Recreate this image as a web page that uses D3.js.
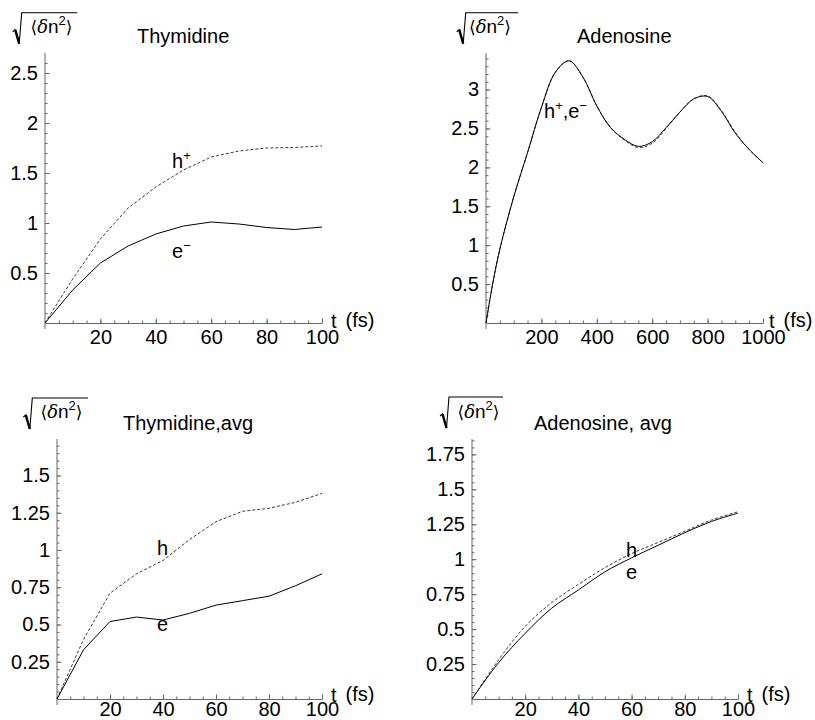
<!DOCTYPE html>
<html><head><meta charset="utf-8">
<script src="https://cdn.jsdelivr.net/npm/d3@7"></script>
<style>
body{margin:0;background:#fff}
text{font-family:"Liberation Sans",Arial,Helvetica,sans-serif;fill:#000}
</style>
</head><body>
<svg id="c" width="815" height="720"></svg>
<script>
// ---------- data ----------
const tShort = [0,10,20,30,40,50,60,70,80,90,100];
const thymidineH = [0,0.44,0.84,1.15,1.36,1.53,1.66,1.72,1.75,1.755,1.77];
const thymidineE = [0,0.33,0.60,0.77,0.89,0.97,1.01,0.99,0.955,0.935,0.96];

const tLong = [0,25,50,100,150,200,250,300,350,400,450,500,550,600,650,700,750,800,850,900,950,1000];
const adenosineH = [0,0.52,0.95,1.62,2.19,2.77,3.22,3.37,3.16,2.79,2.51,2.35,2.255,2.31,2.50,2.71,2.88,2.92,2.73,2.45,2.23,2.06];
const adenosineE = [0,0.52,0.95,1.62,2.19,2.77,3.22,3.37,3.16,2.79,2.51,2.36,2.27,2.33,2.51,2.71,2.88,2.91,2.72,2.44,2.23,2.06];

const thymidineAvgH = [0,0.40,0.71,0.84,0.93,1.07,1.19,1.26,1.28,1.32,1.38];
const thymidineAvgE = [0,0.33,0.52,0.55,0.53,0.575,0.63,0.66,0.69,0.76,0.84];

const adenosineAvgH = [0,0.28,0.52,0.69,0.82,0.94,1.04,1.12,1.20,1.28,1.34];
const adenosineAvgE = [0,0.26,0.47,0.65,0.78,0.91,1.01,1.10,1.19,1.27,1.33];

const xTicks100 = [20,40,60,80,100];
const xTicks1000 = [200,400,600,800,1000];
const yTicksThy = [0.5,1,1.5,2,2.5];
const yTicksAde = [0.5,1,1.5,2,2.5,3];
const yTicksThyAvg = [0.25,0.5,0.75,1,1.25,1.5];
const yTicksAdeAvg = [0.25,0.5,0.75,1,1.25,1.5,1.75];

const titles = ["Thymidine","Adenosine","Thymidine,avg","Adenosine, avg"];

// ---------- layout ----------
const svg = d3.select("#c");
const smooth = d3.curveCatmullRom.alpha(0.5);
const panels = [
  {title:titles[0], t:tShort, h:thymidineH, e:thymidineE, xMax:100, yMax:2.7, xTicks:xTicks100, xMinor:5,
   yTicks:yTicksThy, yMinor:0.1, x0:45, x1:322, yBase:323, yTop:53, xPad:7, curve:d3.curveLinear,
   tfs:[331,328], rad:[12.7,12.7,30.5,77.3,33], titlePos:[137,43],
   labels:[{x:172,y:168,t:"h",s:"+"},{x:172,y:258,t:"e",s:"\u2212"}]},
  {title:titles[1], t:tLong, h:adenosineH, e:adenosineE, xMax:1000, yMax:3.47, xTicks:xTicks1000, xMinor:50,
   yTicks:yTicksAde, yMinor:0.1, x0:486, x1:763, yBase:323, yTop:53, xPad:7, curve:smooth,
   tfs:[769,328], rad:[456.7,12.7,469,518,33], titlePos:[577,43],
   labels:[{x:544,y:118,t:"h",s:"+",t2:",e",s2:"\u2212"}]},
  {title:titles[2], t:tShort, h:thymidineAvgH, e:thymidineAvgE, xMax:100, yMax:1.745, xTicks:xTicks100, xMinor:5,
   yTicks:yTicksThyAvg, yMinor:0.05, x0:57, x1:322, yBase:699, yTop:439, xPad:3, curve:d3.curveLinear,
   tfs:[331,702], rad:[23.3,398,40.5,88,418], titlePos:[123,430],
   labels:[{x:157,y:555,t:"h"},{x:157,y:631,t:"e"}]},
  {title:titles[3], t:tShort, h:adenosineAvgH, e:adenosineAvgE, xMax:100, yMax:1.86, xTicks:xTicks100, xMinor:5,
   yTicks:yTicksAdeAvg, yMinor:0.05, x0:472, x1:738, yBase:699, yTop:439, xPad:3, curve:smooth,
   tfs:[747,702], rad:[440,397,457.5,503,418], titlePos:[534,430],
   labels:[{x:626,y:557,t:"h"},{x:626,y:579,t:"e"}]}
];

const axisColor = "#666";

panels.forEach(p => {
  const g = svg.append("g");
  const x = d3.scaleLinear().domain([0,p.xMax]).range([p.x0,p.x1]);
  const y = d3.scaleLinear().domain([0,p.yMax]).range([p.yBase,p.yTop]);

  // x axis minor ticks
  const xm = g.append("g").attr("transform",`translate(0,${p.yBase})`)
    .call(d3.axisBottom(x).tickValues(d3.range(p.xMinor,p.xMax+0.001,p.xMinor)).tickSize(-2.5).tickSizeOuter(0).tickFormat(""));
  xm.select(".domain").remove();
  // x axis major
  const xa = g.append("g").attr("transform",`translate(0,${p.yBase})`)
    .call(d3.axisBottom(x).tickValues(p.xTicks).tickSize(-4.5).tickSizeOuter(0).tickPadding(p.xPad).tickFormat(d=>String(d)));
  xa.selectAll("text").attr("font-size",20).attr("font-family",null);

  // y axis minor ticks
  const ym = g.append("g").attr("transform",`translate(${p.x0},0)`)
    .call(d3.axisLeft(y).tickValues(d3.range(p.yMinor,p.yMax,p.yMinor).map(v=>+v.toFixed(3))).tickSize(-2.5).tickSizeOuter(0).tickFormat(""));
  ym.select(".domain").remove();
  // y axis major
  const ya = g.append("g").attr("transform",`translate(${p.x0},0)`)
    .call(d3.axisLeft(y).tickValues(p.yTicks).tickSize(-4.5).tickSizeOuter(0).tickPadding(7).tickFormat(d=>String(d)));
  ya.select(".domain").remove();
  ya.selectAll("text").attr("font-size",20).attr("font-family",null);
  g.append("line").attr("x1",p.x0).attr("x2",p.x0).attr("y1",p.yBase+6).attr("y2",p.yTop)
    .attr("stroke",axisColor).attr("stroke-width",1);

  [xm,xa,ym,ya].forEach(a=>{a.selectAll("line,path").attr("stroke",axisColor);});

  // curves
  const line = d3.line().x((d,i)=>x(p.t[i])).y(d=>y(d)).curve(p.curve);
  g.append("path").datum(p.h).attr("d",line).attr("fill","none")
    .attr("stroke","#222").attr("stroke-width",0.9).attr("stroke-dasharray","3,2");
  g.append("path").datum(p.e).attr("d",line).attr("fill","none")
    .attr("stroke","#000").attr("stroke-width",1);

  // title
  g.append("text").attr("x",p.titlePos[0]).attr("y",p.titlePos[1]).attr("font-size",20).text(p.title);

  // t (fs)
  const tf = g.append("text").attr("x",p.tfs[0]).attr("y",p.tfs[1]).attr("font-size",20);
  tf.append("tspan").text("t");
  tf.append("tspan").attr("dx",9).attr("dy",-1).text("(fs)");

  // radical y-label
  const [rx,ry,tx,bx,ty] = p.rad;
  g.append("path")
    .attr("d",`M${rx},${ry+19} L${rx+2.5},${ry+17} L${rx+6.5},${ry+31} L${rx+9},${ry} L${bx},${ry}`)
    .attr("fill","none").attr("stroke","#000").attr("stroke-width",1.1).attr("stroke-linejoin","miter");
  g.append("path")
    .attr("d",`M${rx+2.5},${ry+17} L${rx+6.5},${ry+31}`)
    .attr("fill","none").attr("stroke","#000").attr("stroke-width",2.4);
  const yl = g.append("text").attr("x",tx).attr("y",ty).attr("font-size",19);
  yl.append("tspan").attr("font-family","DejaVu Sans").attr("font-size",17).text("\u27E8");
  yl.append("tspan").attr("font-style","italic").attr("font-family","DejaVu Serif").attr("font-size",18).text("\u03B4");
  yl.append("tspan").text("n");
  yl.append("tspan").attr("font-size",13).attr("dy",-8).text("2");
  yl.append("tspan").attr("font-family","DejaVu Sans").attr("font-size",17).attr("dy",8).text("\u27E9");

  // curve labels
  p.labels.forEach(l=>{
    const t = g.append("text").attr("x",l.x).attr("y",l.y).attr("font-size",20);
    t.append("tspan").text(l.t);
    if(l.s){ t.append("tspan").attr("font-size",13).attr("dy",-8).text(l.s); }
    if(l.t2){ t.append("tspan").attr("dy",8).text(l.t2); }
    if(l.s2){ t.append("tspan").attr("font-size",13).attr("dy",-8).text(l.s2); }
  });
});
</script>
</body></html>
